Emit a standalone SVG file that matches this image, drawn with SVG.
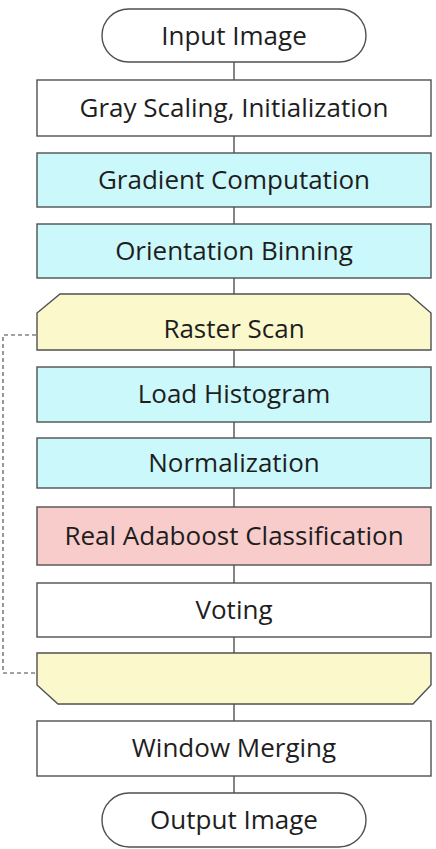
<svg xmlns="http://www.w3.org/2000/svg" width="436" height="849" viewBox="0 0 436 849">
<style>
.b{stroke:#505050;stroke-width:1.4}
.w{fill:#fff}
.c{fill:#cbf8fb}
.y{fill:#fbf9cc}
.p{fill:#f9cccc}
text{font-family:"Open Sans","Noto Sans",sans-serif;font-size:26px;fill:#1e1e1e;text-anchor:middle;dominant-baseline:central}
.ln{stroke:#333;stroke-width:1.2;fill:none}
.d{stroke:#444;stroke-width:1.1;fill:none;stroke-dasharray:4 3}
</style>
<rect width="436" height="849" fill="#fff"/>
<g id="connectors">
<line class="ln" x1="234" y1="62" x2="234" y2="80"/>
<line class="ln" x1="234" y1="136" x2="234" y2="153"/>
<line class="ln" x1="234" y1="207" x2="234" y2="224"/>
<line class="ln" x1="234" y1="278" x2="234" y2="294"/>
<line class="ln" x1="234" y1="350" x2="234" y2="367"/>
<line class="ln" x1="234" y1="422" x2="234" y2="438"/>
<line class="ln" x1="234" y1="488" x2="234" y2="507"/>
<line class="ln" x1="234" y1="565" x2="234" y2="583"/>
<line class="ln" x1="234" y1="637" x2="234" y2="653"/>
<line class="ln" x1="234" y1="704" x2="234" y2="721"/>
<line class="ln" x1="234" y1="776" x2="234" y2="793"/>
<polyline class="d" points="36,335 3,335 3,673 40,673"/>
</g>
<g id="input">
<rect class="b w" x="102" y="9" width="264" height="53" rx="26.5"/>
<text x="234" y="35">Input Image</text>
</g>
<g id="gray">
<rect class="b w" x="37" y="80" width="394" height="56"/>
<text x="234" y="107">Gray Scaling, Initialization</text>
</g>
<g id="gradient">
<rect class="b c" x="37" y="153" width="394" height="54"/>
<text x="234" y="179">Gradient Computation</text>
</g>
<g id="orientation">
<rect class="b c" x="37" y="224" width="394" height="54"/>
<text x="234" y="250">Orientation Binning</text>
</g>
<g id="raster">
<polygon class="b y" points="60,294 409,294 431,313 431,350 37,350 37,313"/>
<text x="234" y="328">Raster Scan</text>
</g>
<g id="load">
<rect class="b c" x="37" y="367" width="394" height="55"/>
<text x="234" y="393">Load Histogram</text>
</g>
<g id="norm">
<rect class="b c" x="37" y="438" width="394" height="50"/>
<text x="234" y="462">Normalization</text>
</g>
<g id="adaboost">
<rect class="b p" x="37" y="507" width="394" height="58"/>
<text x="234" y="535">Real Adaboost Classification</text>
</g>
<g id="voting">
<rect class="b w" x="37" y="583" width="394" height="54"/>
<text x="234" y="609">Voting</text>
</g>
<g id="loopend">
<polygon class="b y" points="37,653 431,653 431,685 413,704 58,704 37,685"/>
</g>
<g id="merge">
<rect class="b w" x="37" y="721" width="394" height="55"/>
<text x="234" y="747">Window Merging</text>
</g>
<g id="output">
<rect class="b w" x="102" y="793" width="264" height="54" rx="27"/>
<text x="234" y="819">Output Image</text>
</g>
</svg>
